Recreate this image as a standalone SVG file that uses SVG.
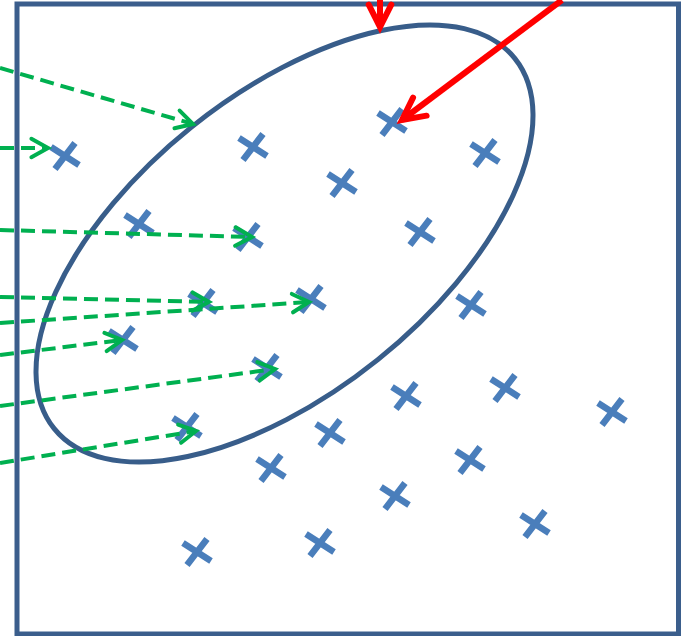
<svg xmlns="http://www.w3.org/2000/svg" width="682" height="636" viewBox="0 0 682 636">
<style>
.frame{fill:none;stroke:#3b5e8c;stroke-width:5}
.ell{fill:none;stroke:#385d8a;stroke-width:5}
.x{stroke:#4a7ebb;stroke-width:6.5;fill:none}
.g{stroke:#00b050;stroke-width:4;fill:none;stroke-dasharray:14 7}
.r{stroke:#ff0000;stroke-width:6;fill:none}
</style>
<defs>
<path id="xm" d="M-14,-9 L14,9 M10,-13 L-10,13"/>
<marker id="ga" markerUnits="userSpaceOnUse" viewBox="-20 -12 24 24" refX="0" refY="0" markerWidth="24" markerHeight="24" orient="auto" overflow="visible">
<path d="M-16.6,-9.2 L0,0 L-16.6,9.2" fill="none" stroke="#00b050" stroke-width="4" stroke-linecap="round" stroke-linejoin="miter"/>
</marker>
<marker id="ra" markerUnits="userSpaceOnUse" viewBox="-26 -14 30 28" refX="0" refY="0" markerWidth="30" markerHeight="28" orient="auto" overflow="visible">
<path d="M-22.3,-11.3 L0,0 L-22.3,11.3" fill="none" stroke="#ff0000" stroke-width="6" stroke-linecap="round" stroke-linejoin="miter"/>
</marker>
</defs>
<rect id="frame" class="frame" x="17" y="4" width="661.5" height="630"/>
<g id="cluster">
<ellipse class="ell" cx="284.5" cy="243.5" rx="295.5" ry="149" transform="rotate(-38.8 284.5 243.5)"/>
</g>
<g id="points" class="x">
<use href="#xm" x="65" y="156"/>
<use href="#xm" x="253" y="147"/>
<use href="#xm" x="392" y="122"/>
<use href="#xm" x="485" y="153"/>
<use href="#xm" x="342" y="183"/>
<use href="#xm" x="139" y="224"/>
<use href="#xm" x="248" y="237"/>
<use href="#xm" x="420" y="232"/>
<use href="#xm" x="203" y="303"/>
<use href="#xm" x="311" y="299"/>
<use href="#xm" x="471" y="305"/>
<use href="#xm" x="123" y="340"/>
<use href="#xm" x="267" y="368"/>
<use href="#xm" x="406" y="396"/>
<use href="#xm" x="505" y="388"/>
<use href="#xm" x="612" y="412"/>
<use href="#xm" x="187" y="427"/>
<use href="#xm" x="330" y="433"/>
<use href="#xm" x="470" y="460"/>
<use href="#xm" x="271" y="468"/>
<use href="#xm" x="395" y="496"/>
<use href="#xm" x="535" y="524"/>
<use href="#xm" x="197" y="552"/>
<use href="#xm" x="320" y="543"/>
</g>
<g id="connectors">
<line class="g" x1="0" y1="68" x2="193" y2="124" marker-end="url(#ga)"/>
<line class="g" x1="0" y1="148" x2="48" y2="148" marker-end="url(#ga)"/>
<line class="g" x1="0" y1="230" x2="252" y2="237" marker-end="url(#ga)"/>
<line class="g" x1="0" y1="297" x2="209" y2="302" marker-end="url(#ga)"/>
<line class="g" x1="0" y1="323" x2="309" y2="302" marker-end="url(#ga)"/>
<line class="g" x1="0" y1="355" x2="122" y2="340" marker-end="url(#ga)"/>
<line class="g" x1="0" y1="406" x2="275" y2="369" marker-end="url(#ga)"/>
<line class="g" x1="0" y1="463" x2="196" y2="431" marker-end="url(#ga)"/>
<line class="r" x1="380" y1="0" x2="380" y2="27" marker-end="url(#ra)"/>
<line class="r" x1="562" y1="0" x2="402" y2="120" marker-end="url(#ra)"/>
</g>
</svg>
